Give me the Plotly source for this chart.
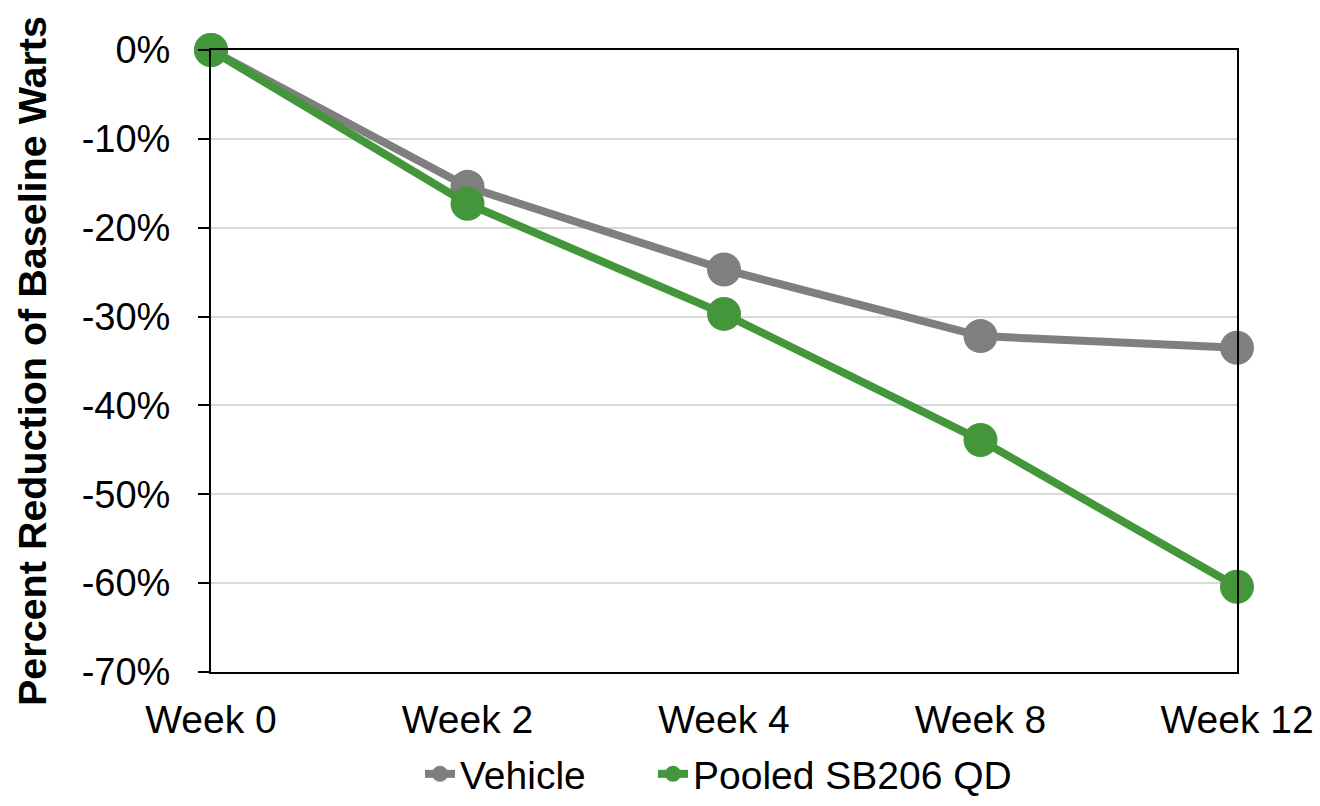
import plotly.graph_objects as go

weeks = ["Week 0", "Week 2", "Week 4", "Week 8", "Week 12"]
vehicle = [0.0, -15.4, -24.7, -32.2, -33.5]
sb206 = [0.0, -17.3, -29.7, -43.9, -60.4]
y_ticks = [0, -10, -20, -30, -40, -50, -60, -70]
y_tick_text = ["0%", "-10%", "-20%", "-30%", "-40%", "-50%", "-60%", "-70%"]

FONT = "Liberation Sans, Arial, sans-serif"
GRAY = "#7f7f7f"
GREEN = "#43973a"

fig = go.Figure()
fig.add_trace(go.Scatter(
    x=weeks, y=vehicle, name="Vehicle", mode="lines+markers",
    line=dict(color=GRAY, width=8), marker=dict(size=34, color=GRAY),
    cliponaxis=False, legend="legend",
))
fig.add_trace(go.Scatter(
    x=weeks, y=sb206, name="Pooled SB206 QD", mode="lines+markers",
    line=dict(color=GREEN, width=8), marker=dict(size=34, color=GREEN),
    cliponaxis=False, legend="legend2",
))

legend_common = dict(
    orientation="h", xanchor="left",
    xref="container", yref="container", y=-0.007, yanchor="bottom",
    font=dict(size=39), itemwidth=30, borderwidth=0,
    bgcolor="rgba(0,0,0,0)",
)

fig.update_layout(
    width=1320, height=806,
    margin=dict(l=211, r=83, t=50, b=134, autoexpand=False),
    paper_bgcolor="white", plot_bgcolor="white",
    font=dict(family=FONT, size=38, color="black"),
    showlegend=True,
    legend=dict(legend_common, x=420 / 1320),
    legend2=dict(legend_common, x=653 / 1320),
    annotations=[dict(
        text="<b>Percent Reduction of Baseline Warts</b>",
        xref="paper", yref="paper", x=0, y=0.5, xshift=-179,
        xanchor="center", yanchor="middle", textangle=-90,
        showarrow=False, font=dict(size=39.5, family=FONT, color="black"),
    )],
)

fig.update_xaxes(
    type="category", range=[0, 4],
    showline=True, linecolor="black", linewidth=2, mirror=True,
    showgrid=False, ticks="", ticklabelstandoff=12,
    tickfont=dict(size=39),
)
fig.update_yaxes(
    range=[-70, 0], tickmode="array", tickvals=y_ticks, ticktext=y_tick_text,
    showline=True, linecolor="black", linewidth=2, mirror=True,
    showgrid=True, gridcolor="#d9d9d9", gridwidth=1.5,
    ticks="outside", ticklen=11, tickwidth=2, tickcolor="black",
    ticklabelstandoff=20, zeroline=False,
    tickfont=dict(size=38),
)

fig.write_html("out.html")
